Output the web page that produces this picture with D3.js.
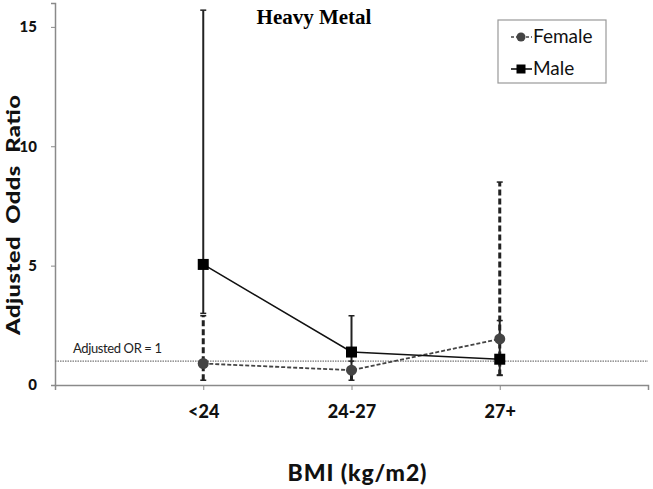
<!DOCTYPE html>
<html>
<head>
<meta charset="utf-8">
<script src="https://cdn.jsdelivr.net/npm/d3@7"></script>
<style>
  body { margin: 0; background: #fff; }
  text { font-family: Lato, "Open Sans", sans-serif; }
</style>
</head>
<body>
<svg id="chart" width="653" height="489"></svg>
<script>
// categories and values
let categories = ["<24", "24-27", "27+"];
let femaleOR = [0.9, 0.62, 1.93];
let femaleLow = [0.2, 0.2, 0.4];
let femaleHigh = [2.9, 1.0, 8.5];
let maleOR = [5.05, 1.38, 1.08];
let maleLow = [3.0, 0.5, 0.42];
let maleHigh = [15.7, 2.9, 2.7];
let yTicks = [0, 5, 10, 15];
let refValue = 1;

let svg = d3.select("#chart");
let plotLeft = 55, plotRight = 648, plotTop = 3, plotBottom = 385;

// categories sit at 1,2,3 on a 0..4 axis
let x = d3.scaleLinear().domain([0, 4]).range([plotLeft, plotRight]);
let y = d3.scaleLinear().domain([0, 16]).range([plotBottom, plotTop]);

// axes
let yAxis = svg.append("g")
    .attr("transform", "translate(" + plotLeft + ",0)")
    .call(d3.axisLeft(y).tickValues(yTicks).tickSize(4).tickFormat(d3.format("d")));
yAxis.select(".domain").attr("stroke", "#8a8a8a").attr("stroke-width", 1.5);
yAxis.selectAll(".tick line").attr("stroke", "#8a8a8a");
yAxis.selectAll("text")
    .attr("x", -18)
    .style("font-size", "15px")
    .style("font-weight", "900")
    .attr("fill", "#111");

let xAxis = svg.append("g")
    .attr("transform", "translate(0," + plotBottom + ")")
    .call(d3.axisBottom(x).tickValues([0, 1, 2, 3, 4]).tickSize(5)
        .tickFormat(d => categories[d - 1] || ""));
xAxis.select(".domain").attr("stroke", "#8a8a8a").attr("stroke-width", 1.5);
xAxis.selectAll(".tick line").attr("stroke", "#8a8a8a");
xAxis.selectAll("text")
    .attr("y", 20)
    .style("font-size", "18px")
    .style("font-weight", "900")
    .attr("fill", "#111");

// reference line at OR = 1
svg.append("line")
    .attr("x1", plotLeft).attr("x2", plotRight)
    .attr("y1", y(refValue)).attr("y2", y(refValue))
    .attr("stroke", "#777")
    .attr("stroke-width", 1.2)
    .attr("stroke-dasharray", "1.5,1");

svg.append("text")
    .attr("x", 73).attr("y", 353)
    .style("font-size", "13px")
    .attr("textLength", 89)
    .attr("fill", "#222")
    .text("Adjusted OR = 1");

let idx = d3.range(categories.length);

// male error bars
svg.selectAll(".maleErr")
    .data(idx)
    .join("line")
    .attr("x1", i => x(i + 1)).attr("x2", i => x(i + 1))
    .attr("y1", i => y(maleLow[i])).attr("y2", i => y(maleHigh[i]))
    .attr("stroke", "#222")
    .attr("stroke-width", 2);
svg.selectAll(".maleCap")
    .data(idx.flatMap(i => [[i, maleLow[i]], [i, maleHigh[i]]]))
    .join("line")
    .attr("x1", d => x(d[0] + 1) - 3).attr("x2", d => x(d[0] + 1) + 3)
    .attr("y1", d => y(d[1])).attr("y2", d => y(d[1]))
    .attr("stroke", "#222")
    .attr("stroke-width", 1.5);

// female error bars
svg.selectAll(".femErr")
    .data(idx)
    .join("line")
    .attr("x1", i => x(i + 1)).attr("x2", i => x(i + 1))
    .attr("y1", i => y(femaleLow[i])).attr("y2", i => y(femaleHigh[i]))
    .attr("stroke", "#222")
    .attr("stroke-width", 3)
    .attr("stroke-dasharray", "6,3");
svg.selectAll(".femCap")
    .data(idx.flatMap(i => [[i, femaleLow[i]], [i, femaleHigh[i]]]))
    .join("line")
    .attr("x1", d => x(d[0] + 1) - 3).attr("x2", d => x(d[0] + 1) + 3)
    .attr("y1", d => y(d[1])).attr("y2", d => y(d[1]))
    .attr("stroke", "#222")
    .attr("stroke-width", 1.5);

// series lines
let line = d3.line().x(d => x(d[0] + 1)).y(d => y(d[1]));

svg.append("path")
    .attr("d", line(idx.map(i => [i, femaleOR[i]])))
    .attr("fill", "none")
    .attr("stroke", "#444")
    .attr("stroke-width", 1.8)
    .attr("stroke-dasharray", "4,2");

svg.append("path")
    .attr("d", line(idx.map(i => [i, maleOR[i]])))
    .attr("fill", "none")
    .attr("stroke", "#111")
    .attr("stroke-width", 1.6);

// markers
svg.selectAll(".femPt")
    .data(idx)
    .join("circle")
    .attr("cx", i => x(i + 1))
    .attr("cy", i => y(femaleOR[i]))
    .attr("r", 5.5)
    .attr("fill", "#444");

svg.selectAll(".malePt")
    .data(idx)
    .join("rect")
    .attr("x", i => x(i + 1) - 5.5)
    .attr("y", i => y(maleOR[i]) - 5.5)
    .attr("width", 11).attr("height", 11)
    .attr("fill", "#000");

// title
svg.append("text")
    .attr("x", 314).attr("y", 24)
    .attr("text-anchor", "middle")
    .style("font-family", "'Liberation Serif', 'DejaVu Serif', serif")
    .style("font-size", "21px")
    .style("font-weight", "bold")
    .text("Heavy Metal");

// axis titles
svg.append("text")
    .attr("x", 357).attr("y", 481)
    .attr("text-anchor", "middle")
    .attr("textLength", 139)
    .style("font-size", "23px")
    .style("font-weight", "900")
    .attr("fill", "#111")
    .text("BMI (kg/m2)");

// the y title looks stretched along its length in the reference
svg.append("text")
    .attr("transform", "translate(20,215) rotate(-90) scale(1.25,1)")
    .attr("text-anchor", "middle")
    .attr("textLength", 192)
    .style("font-size", "19px")
    .style("font-weight", "900")
    .style("word-spacing", "5px")
    .attr("fill", "#111")
    .text("Adjusted Odds Ratio");

// legend
let legend = svg.append("g");
legend.append("rect")
    .attr("x", 498).attr("y", 20)
    .attr("width", 108).attr("height", 63)
    .attr("fill", "#fff")
    .attr("stroke", "#999")
    .attr("stroke-width", 1.2);

let legendItems = [
    { name: "Female", yy: 37, dash: "3,2", col: "#444" },
    { name: "Male", yy: 69, dash: null, col: "#000" }
];
legendItems.forEach(function (d) {
    legend.append("line")
        .attr("x1", 511).attr("x2", 532)
        .attr("y1", d.yy).attr("y2", d.yy)
        .attr("stroke", d.col)
        .attr("stroke-width", 1.5)
        .attr("stroke-dasharray", d.dash);
    if (d.name === "Female") {
        legend.append("circle").attr("cx", 521).attr("cy", d.yy).attr("r", 4.5).attr("fill", d.col);
    } else {
        legend.append("rect").attr("x", 516.5).attr("y", d.yy - 4.5).attr("width", 9).attr("height", 9).attr("fill", d.col);
    }
    legend.append("text")
        .attr("x", 533).attr("y", d.yy + 6)
        .style("font-size", "19px")
        .attr("fill", "#111")
        .text(d.name);
});
</script>
</body>
</html>
